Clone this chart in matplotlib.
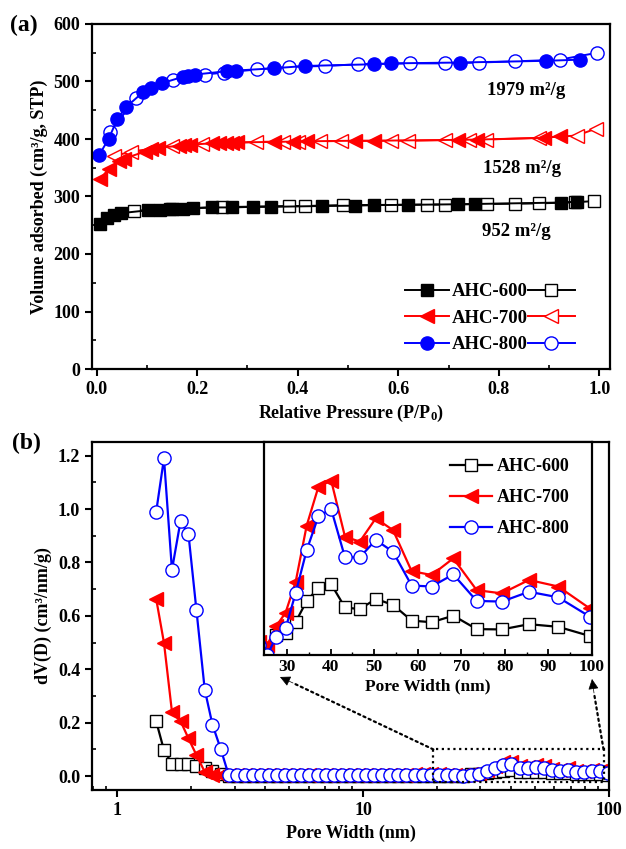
import matplotlib
matplotlib.use("Agg")
import matplotlib.pyplot as plt
from matplotlib.patches import Rectangle

plt.rcParams['font.family'] = ['Liberation Serif', 'DejaVu Serif']
plt.rcParams['font.weight'] = 'bold'
plt.rcParams['axes.labelweight'] = 'bold'
plt.rcParams['mathtext.fontset'] = 'custom'
plt.rcParams['mathtext.rm'] = 'Liberation Serif:bold'
plt.rcParams['mathtext.it'] = 'Liberation Serif:bold'
plt.rcParams['mathtext.bf'] = 'Liberation Serif:bold'

# ---------------- (a) N2 isotherms ----------------
ahc600_ads_p = [0.007, 0.020, 0.034, 0.048, 0.102, 0.127, 0.150, 0.171, 0.192, 0.229, 0.270, 0.311,
                0.346, 0.448, 0.513, 0.551, 0.620, 0.719, 0.753, 0.924, 0.955]
ahc600_ads_v = [253, 262, 267, 271, 276, 277, 278, 279, 279.5, 281, 281, 282,
                282, 283.5, 284, 285, 285.5, 286.5, 287, 289.5, 291]
ahc600_des_p = [0.075, 0.147, 0.250, 0.383, 0.414, 0.490, 0.585, 0.657, 0.692, 0.777, 0.832, 0.880, 0.952, 0.989]
ahc600_des_v = [275, 279, 281.5, 283.5, 283.5, 285, 285.5, 286, 286, 287, 287.5, 288, 290, 292]

ahc700_ads_p = [0.007, 0.024, 0.044, 0.055, 0.096, 0.109, 0.123, 0.164, 0.174, 0.185, 0.229, 0.243,
                0.257, 0.270, 0.280, 0.353, 0.390, 0.418, 0.513, 0.551, 0.719, 0.757, 0.890, 0.921]
ahc700_ads_v = [330, 348, 361, 366, 378, 382, 385, 388, 389.5, 390, 392.5, 393,
                393, 393.5, 394, 395, 395.5, 396, 397, 397, 398.5, 399, 402, 404.5]
ahc700_des_p = [0.034, 0.068, 0.150, 0.209, 0.318, 0.370, 0.400, 0.445, 0.486, 0.585, 0.620, 0.692,
                0.740, 0.774, 0.880, 0.955, 0.993]
ahc700_des_v = [370, 378, 388, 391, 395, 395.5, 395.5, 396, 396.5, 397, 397, 398,
                398.5, 399, 402, 406, 418]

ahc800_ads_p = [0.005, 0.024, 0.041, 0.058, 0.092, 0.109, 0.130, 0.171, 0.181, 0.195, 0.260, 0.277,
                0.353, 0.414, 0.551, 0.585, 0.722, 0.894, 0.962]
ahc800_ads_v = [372, 400, 434, 455, 481, 488, 497, 508, 510, 512, 518, 519,
                523, 527, 530, 531.5, 533, 536, 538]
ahc800_des_p = [0.027, 0.079, 0.152, 0.215, 0.253, 0.320, 0.383, 0.455, 0.520, 0.623, 0.692, 0.760,
                0.832, 0.921, 0.996]
ahc800_des_v = [412, 472, 502, 512, 515.5, 521, 525.5, 527, 530, 531.5, 531.5, 533,
                535, 538, 550]

surface_labels = ['952 m²/g', '1528 m²/g', '1979 m²/g']
sample_names = ['AHC-600', 'AHC-700', 'AHC-800']

# ---------------- (b) pore size distribution ----------------
pore_width = [1.44, 1.55, 1.67, 1.81, 1.95, 2.10, 2.27, 2.44, 2.64, 2.84, 3.07, 3.31, 3.57, 3.85,
              4.15, 4.47, 4.83, 5.20, 5.61, 6.05, 6.53, 7.04, 7.60, 8.19, 8.84, 9.53, 10.28, 11.09,
              11.96, 12.90, 13.91, 15.01, 16.19, 17.46, 18.83, 20.31, 21.91, 23.63, 25.49, 27.49,
              29.65, 31.98, 34.50, 37.21, 40.13, 43.29, 46.69, 50.36, 54.32, 58.59, 63.19, 68.16,
              73.52, 79.30, 85.53, 92.25, 99.50]
dv_600 = [0.206, 0.097, 0.047, 0.047, 0.044, 0.037, 0.029, 0.020, 0.008, 0.002, 0.001, 0.001, 0.001, 0.001,
          0.001, 0.001, 0.001, 0.001, 0.001, 0.001, 0.001, 0.001, 0.001, 0.001, 0.001, 0.001, 0.001, 0.001,
          0.001, 0.001, 0.001, 0.001, 0.001, 0.001, 0.001, 0.001, 0.001, 0.001, 0.0009, 0.0061,
          0.0066, 0.0101, 0.0165, 0.0205, 0.0216, 0.0145, 0.0140, 0.0171, 0.0153, 0.0105, 0.0100, 0.0120,
          0.0079, 0.0078, 0.0094, 0.0086, 0.0058]
dv_700 = [0.665, 0.499, 0.241, 0.206, 0.141, 0.079, 0.016, 0.006, 0.005, 0.005, 0.005, 0.005, 0.005, 0.005,
          0.005, 0.005, 0.005, 0.005, 0.005, 0.005, 0.005, 0.005, 0.005, 0.005, 0.005, 0.005, 0.005, 0.005,
          0.005, 0.005, 0.005, 0.005, 0.007, 0.007, 0.007, 0.007, 0.006, 0.004, 0.0031, 0.0088,
          0.0129, 0.0224, 0.0395, 0.0514, 0.0532, 0.0361, 0.0346, 0.0417, 0.0381, 0.0256, 0.0244, 0.0295,
          0.0198, 0.0188, 0.0229, 0.0209, 0.0142]
dv_800 = [0.988, 1.190, 0.772, 0.955, 0.905, 0.622, 0.324, 0.193, 0.100, 0.004, 0.003, 0.003, 0.003, 0.003,
          0.003, 0.003, 0.003, 0.003, 0.003, 0.003, 0.003, 0.003, 0.003, 0.003, 0.003, 0.003, 0.003, 0.003,
          0.003, 0.003, 0.004, 0.004, 0.004, 0.005, 0.005, 0.005, 0.004, 0.003, 0.0, 0.0056,
          0.0081, 0.0190, 0.0320, 0.0424, 0.0445, 0.0298, 0.0298, 0.0351, 0.0315, 0.0212, 0.0209, 0.0246,
          0.0165, 0.0163, 0.0193, 0.0176, 0.0117]

W, H = 626, 849
def fx(px):
    return px / W
def fy(py):
    return 1 - py / H

fig = plt.figure(figsize=(W / 100, H / 100), dpi=100)

def style_axes(ax):
    for s in ax.spines.values():
        s.set_linewidth(1.6)
    ax.tick_params(which='major', direction='out', length=5, width=1.5, labelsize=13,
                   top=False, right=False)
    ax.tick_params(which='minor', direction='in', length=3, width=1.2, top=False, right=False)

# ---- panel (a)
ax1 = fig.add_axes([fx(92), fy(369), fx(610 - 92), (369 - 24) / H])
ax1.set_xlim(-0.009, 1.021)
ax1.set_ylim(0, 600)
ax1.set_xticks([0.0, 0.2, 0.4, 0.6, 0.8, 1.0])
ax1.set_xticks([0.1, 0.3, 0.5, 0.7, 0.9], minor=True)
ax1.set_yticks(range(0, 601, 100))
ax1.set_yticks(range(50, 600, 100), minor=True)
ax1.set_xticklabels(['0.0', '0.2', '0.4', '0.6', '0.8', '1.0'])
style_axes(ax1)

colors = ['black', 'red', 'blue']
markers = ['s', '<', 'o']
msz = [8, 9.5, 9.5]
ads = [(ahc600_ads_p, ahc600_ads_v), (ahc700_ads_p, ahc700_ads_v), (ahc800_ads_p, ahc800_ads_v)]
des = [(ahc600_des_p, ahc600_des_v), (ahc700_des_p, ahc700_des_v), (ahc800_des_p, ahc800_des_v)]
h_ads, h_des = [], []
for i in range(3):
    hd, = ax1.plot(des[i][0], des[i][1], '-', color=colors[i], lw=1.4, marker=markers[i], ms=msz[i],
                   mfc='white', mec=colors[i], mew=1.0)
    ha, = ax1.plot(ads[i][0], ads[i][1], '-', color=colors[i], lw=1.4, marker=markers[i], ms=msz[i],
                   mfc=colors[i], mec=colors[i])
    h_ads.append(ha)
    h_des.append(hd)

ax1.text(0.767, 239, surface_labels[0], fontsize=13.5, va='center', ha='left')
ax1.text(0.769, 348, surface_labels[1], fontsize=13.5, va='center', ha='left')
ax1.text(0.777, 484, surface_labels[2], fontsize=13.5, va='center', ha='left')

ax1.set_xlabel('Relative Pressure (P/P$_0$)', fontsize=13, labelpad=4)
ax1.set_ylabel('Volume adsorbed (cm³/g, STP)', fontsize=13, labelpad=4)

leg_kw = dict(bbox_transform=fig.transFigure, frameon=False, numpoints=1, borderpad=0,
              borderaxespad=0, labelspacing=0.5, fontsize=13.5, loc='upper left')
leg1 = ax1.legend(h_ads, [' ', ' ', ' '], bbox_to_anchor=(fx(405), fy(283)),
                  handlelength=2.35, handletextpad=0.0, **leg_kw)
ax1.add_artist(leg1)
leg2 = ax1.legend(h_des, sample_names, bbox_to_anchor=(fx(452), fy(283)),
                  handlelength=2.5, handletextpad=0.0, markerfirst=False, **leg_kw)

fig.text(fx(10), fy(25), '(a)', fontsize=17, va='center', ha='left')

# ---- panel (b)
ax2 = fig.add_axes([fx(92), fy(790), fx(609 - 92), (790 - 442) / H])
ax2.set_xscale('log')
ax2.set_xlim(0.79, 100)
ax2.set_ylim(-0.052, 1.251)
ax2.set_xticks([1, 10, 100])
ax2.set_xticklabels(['1', '10', '100'])
ax2.set_yticks([0.0, 0.2, 0.4, 0.6, 0.8, 1.0, 1.2])
ax2.set_yticks([0.1, 0.3, 0.5, 0.7, 0.9, 1.1], minor=True)
ax2.set_yticklabels(['0.0', '0.2', '0.4', '0.6', '0.8', '1.0', '1.2'])
style_axes(ax2)
ax2.tick_params(which='minor', labelbottom=False)

dvs = [dv_600, dv_700, dv_800]
bmarkers = ['s', '<', 'o']
bms = [8, 9.5, 9.5]
bface = ['white', 'red', 'white']
for i in range(3):
    ax2.plot(pore_width, dvs[i], '-', color=colors[i], lw=1.6, marker=bmarkers[i], ms=bms[i],
             mfc=bface[i], mec=colors[i], mew=1.0)

ax2.set_xlabel('Pore Width (nm)', fontsize=13, labelpad=4)
ax2.set_ylabel('dV(D) (cm³/nm/g)', fontsize=13, labelpad=4)

# zoom box + arrows
ax2.add_patch(Rectangle((19.3, -0.021), 95 - 19.3, 0.121, fill=False, ls=(0, (1, 1.6)), lw=1.6,
                        ec='black', zorder=5))
def dotted_arrow(start_data, end_px, head_px):
    ax2.annotate('', xy=(fx(head_px[0]), fy(head_px[1])), xycoords='figure fraction',
                 xytext=start_data, textcoords='data',
                 arrowprops=dict(arrowstyle='-', ls=(0, (1, 1.6)), lw=1.6, color='black',
                                 shrinkA=0, shrinkB=0), annotation_clip=False)
    ax2.annotate('', xy=(fx(end_px[0]), fy(end_px[1])), xycoords='figure fraction',
                 xytext=(fx(head_px[0]), fy(head_px[1])), textcoords='figure fraction',
                 arrowprops=dict(arrowstyle='-|>', lw=0.5, color='black', mutation_scale=16,
                                 shrinkA=0, shrinkB=0), annotation_clip=False)
dotted_arrow((19.3, 0.1), (280, 677), (293, 683))
dotted_arrow((95, 0.1), (592, 679), (594, 693))

fig.text(fx(12), fy(443), '(b)', fontsize=17, va='center', ha='left')

# ---- inset
axin = fig.add_axes([fx(264), fy(655), fx(592 - 264), (655 - 442) / H])
axin.set_xlim(24.7, 100)
axin.set_ylim(0, 0.065)
axin.set_yticks([])
axin.set_xticks(range(30, 101, 10))
axin.set_xticks(range(35, 100, 10), minor=True)
for s in axin.spines.values():
    s.set_linewidth(1.6)
axin.tick_params(which='major', direction='in', length=4, width=1.3, labelsize=12.5, pad=3)
axin.tick_params(which='minor', direction='in', length=2.5, width=1.0)
hin = []
for i in range(3):
    h, = axin.plot(pore_width, dvs[i], '-', color=colors[i], lw=1.6, marker=bmarkers[i], ms=bms[i],
                   mfc=bface[i], mec=colors[i], mew=1.0)
    hin.append(h)
axin.set_xlabel('Pore Width (nm)', fontsize=12.5, labelpad=2)
axin.legend(hin, sample_names, loc='upper left', bbox_to_anchor=(fx(450), fy(458)),
            bbox_transform=fig.transFigure, frameon=False, numpoints=1, handlelength=2.3,
            handletextpad=0.3, borderpad=0, borderaxespad=0, labelspacing=0.78, fontsize=13)

fig.savefig('out.png', dpi=100)
